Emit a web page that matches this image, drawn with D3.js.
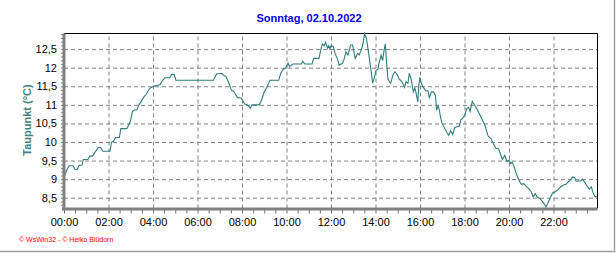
<!DOCTYPE html>
<html>
<head>
<meta charset="utf-8">
<script src="https://cdn.jsdelivr.net/npm/d3@7"></script>
<style>
  body { margin: 0; background: #fff; }
  svg { display: block; }
  text { font-family: "Liberation Sans", Arial, sans-serif; }
</style>
</head>
<body>
<div id="chart"></div>
<script>
// Taupunkt, Sonntag 02.10.2022 (hours since midnight, degrees C)
var hours = [
  0.00, 0.03, 0.12, 0.23, 0.41, 0.50, 0.60, 0.67, 0.81, 0.87, 1.07, 1.16, 1.28, 1.40, 1.54, 1.64, 1.75,
  2.07, 2.13, 2.22, 2.32, 2.49, 2.55, 2.82, 2.89, 3.00, 3.07, 3.18, 3.27, 3.37, 3.48, 3.60, 3.67, 3.78,
  3.87, 4.04, 4.31, 4.40, 4.54, 4.76, 4.84, 4.95, 5.03, 6.71, 6.86, 7.09, 7.20, 7.28, 7.40, 7.52, 7.64,
  7.79, 7.97, 8.12, 8.27, 8.37, 8.45, 8.78, 8.87, 8.99, 9.14, 9.26, 9.65, 9.74, 9.86, 9.96, 10.07, 10.14,
  10.22, 10.29, 10.67, 10.73, 10.82, 11.15, 11.22, 11.46, 11.54, 11.61, 11.69, 11.76, 11.84, 11.90, 11.95,
  12.00, 12.10, 12.19, 12.28, 12.37, 12.52, 12.60, 12.67, 12.76, 12.88, 12.97, 13.09, 13.20, 13.27, 13.36,
  13.42, 13.51, 13.60, 13.69, 13.78, 13.87, 13.96, 14.02, 14.11, 14.16, 14.25, 14.32, 14.38, 14.44, 14.50,
  14.56, 14.68, 14.78, 14.87, 14.98, 15.07, 15.19, 15.31, 15.37, 15.46, 15.52, 15.61, 15.70, 15.77, 15.83,
  15.90, 15.95, 16.00, 16.06, 16.15, 16.26, 16.36, 16.42, 16.51, 16.60, 16.69, 16.75, 16.81, 16.87, 16.93,
  16.99, 17.11, 17.20, 17.29, 17.38, 17.47, 17.56, 17.77, 17.83, 17.92, 18.01, 18.10, 18.19, 18.25, 18.35,
  18.46, 18.58, 18.70, 18.82, 18.94, 19.06, 19.18, 19.29, 19.41, 19.53, 19.63, 19.70, 19.81, 19.90, 19.99,
  20.08, 20.14, 20.22, 20.34, 20.46, 20.55, 20.67, 20.76, 20.88, 21.00, 21.09, 21.18, 21.27, 21.39, 21.51,
  21.60, 21.66, 21.75, 21.87, 21.96, 22.08, 22.20, 22.32, 22.44, 22.56, 22.65, 22.74, 22.86, 22.95, 23.01,
  23.22, 23.31, 23.40, 23.52, 23.61, 23.70, 23.79, 23.88, 23.94
];
var dewPoint = [
  9.05, 9.09, 9.24, 9.36, 9.36, 9.26, 9.26, 9.37, 9.38, 9.53, 9.53, 9.62, 9.62, 9.73, 9.85, 9.85, 9.75,
  9.75, 9.99, 10.02, 10.12, 10.12, 10.36, 10.36, 10.43, 10.59, 10.82, 10.86, 10.86, 11.00, 11.10, 11.22, 11.26, 11.38,
  11.45, 11.50, 11.54, 11.63, 11.73, 11.73, 11.82, 11.82, 11.66, 11.66, 11.83, 11.85, 11.78, 11.76, 11.60, 11.40, 11.35,
  11.20, 11.18, 11.02, 10.99, 10.91, 11.00, 11.00, 11.11, 11.33, 11.51, 11.66, 11.66, 11.85, 11.96, 11.99, 12.12, 12.03,
  12.07, 12.10, 12.10, 12.17, 12.10, 12.10, 12.25, 12.25, 12.48, 12.64, 12.59, 12.68, 12.52, 12.59, 12.50,
  12.59, 12.57, 12.37, 12.25, 12.07, 12.12, 12.25, 12.43, 12.34, 12.61, 12.61, 12.25, 12.39, 12.34, 12.48,
  12.59, 12.91, 12.77, 12.39, 12.01, 11.58, 11.76, 11.92, 11.96, 12.12, 12.34, 12.19, 12.45, 12.64, 12.12,
  11.69, 11.58, 11.80, 11.89, 11.81, 11.69, 11.62, 11.47, 11.62, 11.58, 11.85, 11.67, 11.35, 11.45, 11.30,
  11.08, 11.54, 11.74, 11.58, 11.47, 11.38, 11.38, 11.18, 11.35, 11.35, 11.26, 10.86, 10.97, 10.86, 10.64,
  10.50, 10.37, 10.27, 10.18, 10.30, 10.20, 10.39, 10.43, 10.59, 10.64, 10.72, 10.90, 10.93, 10.82, 11.09,
  10.99, 10.86, 10.72, 10.57, 10.41, 10.16, 10.10, 9.96, 9.83, 9.82, 9.65, 9.53, 9.64, 9.49, 9.51,
  9.42, 9.46, 9.35, 9.13, 8.95, 8.86, 8.88, 8.81, 8.75, 8.66, 8.52, 8.61, 8.52, 8.48, 8.39,
  8.32, 8.25, 8.36, 8.52, 8.63, 8.66, 8.72, 8.79, 8.84, 8.86, 8.92, 8.97, 9.06, 9.04, 8.95,
  8.95, 9.00, 8.92, 8.81, 8.73, 8.79, 8.61, 8.52, 8.54
];
var yTicks = [8.5, 9, 9.5, 10, 10.5, 11, 11.5, 12, 12.5];
var xTicks = [0, 2, 4, 6, 8, 10, 12, 14, 16, 18, 20, 22];
var xTickLabels = ["00:00", "02:00", "04:00", "06:00", "08:00", "10:00", "12:00", "14:00", "16:00", "18:00", "20:00", "22:00"];

var width = 616, height = 253;
var plotLeft = 64, plotRight = 597.5, plotTop = 33.5, plotBottom = 208.5;

var svg = d3.select("#chart").append("svg")
  .attr("width", width)
  .attr("height", height);

svg.append("rect").attr("width", width).attr("height", height).attr("fill", "#fff");

var x = d3.scaleLinear().domain([0, 24]).range([plotLeft, plotLeft + 534]);
var y = d3.scaleLinear().domain([8.21, 12.92]).range([plotBottom, plotTop]);

// grid
svg.append("g")
  .attr("transform", "translate(0," + plotBottom + ")")
  .call(d3.axisBottom(x).tickValues(xTicks.slice(1)).tickSize(-(plotBottom - plotTop)).tickFormat(""))
  .call(function(g) {
    g.select(".domain").remove();
    g.selectAll("line").attr("stroke", "#808080").attr("stroke-dasharray", "4,3");
  });
svg.append("g")
  .attr("transform", "translate(" + plotLeft + ",0)")
  .call(d3.axisLeft(y).tickValues(yTicks).tickSize(-(plotRight - plotLeft)).tickFormat(""))
  .call(function(g) {
    g.select(".domain").remove();
    g.selectAll("line").attr("stroke", "#808080").attr("stroke-dasharray", "4,3");
  });

// frame top / right
svg.append("line").attr("x1", plotLeft).attr("x2", plotRight).attr("y1", plotTop).attr("y2", plotTop)
  .attr("stroke", "#000").attr("stroke-width", 1);
svg.append("line").attr("x1", plotRight).attr("x2", plotRight).attr("y1", plotTop).attr("y2", plotBottom)
  .attr("stroke", "#000").attr("stroke-width", 1);

// the line
var line = d3.line()
  .x(function(d, i) { return x(hours[i]); })
  .y(function(d) { return y(d); });

svg.append("path")
  .datum(dewPoint)
  .attr("fill", "none")
  .attr("stroke", "#2f7d7d")
  .attr("stroke-width", 1.1)
  .attr("d", line);

// x axis: minor ticks every half hour, labels every 2 hours
var halfHours = d3.range(0, 24, 0.5);
svg.append("g")
  .attr("transform", "translate(0," + (plotBottom + 1) + ")")
  .call(d3.axisBottom(x).tickValues(halfHours).tickSize(4).tickFormat(""))
  .call(function(g) {
    g.select(".domain").remove();
    g.selectAll("line").attr("stroke", "#707070");
  });
svg.append("g")
  .attr("transform", "translate(0," + (plotBottom + 1) + ")")
  .call(d3.axisBottom(x).tickValues(xTicks).tickSize(0).tickPadding(9)
    .tickFormat(function(d, i) { return xTickLabels[i]; }))
  .call(function(g) {
    g.select(".domain").remove();
    g.selectAll("text").attr("fill", "#000").style("font-size", "11px");
  });
svg.append("line").attr("x1", plotLeft - 2).attr("x2", plotRight).attr("y1", plotBottom + 0.5).attr("y2", plotBottom + 0.5)
  .attr("stroke", "#808080").attr("stroke-width", 3);

// y axis
var tenths = d3.range(83, 130).map(function(d) { return d / 10; });
svg.append("g")
  .attr("transform", "translate(" + (plotLeft - 1) + ",0)")
  .call(d3.axisLeft(y).tickValues(tenths).tickSize(2).tickFormat(""))
  .call(function(g) {
    g.select(".domain").remove();
    g.selectAll("line").attr("stroke", "#808080");
  });
svg.append("g")
  .attr("transform", "translate(" + (plotLeft - 1) + ",0)")
  .call(d3.axisLeft(y).tickValues(yTicks).tickSize(0).tickPadding(6)
    .tickFormat(function(d) { return String(d).replace(".", ","); }))
  .call(function(g) {
    g.select(".domain").remove();
    g.selectAll("text").attr("fill", "#000").style("font-size", "11px");
  });
svg.append("line").attr("x1", plotLeft).attr("x2", plotLeft).attr("y1", plotTop).attr("y2", plotBottom + 2)
  .attr("stroke", "#808080").attr("stroke-width", 3);

// texts
svg.append("text")
  .attr("x", 309).attr("y", 22)
  .attr("text-anchor", "middle")
  .attr("fill", "#0000ff")
  .style("font-size", "11px").style("font-weight", "bold")
  .text("Sonntag, 02.10.2022");

svg.append("text")
  .attr("transform", "translate(31,120) rotate(-90)")
  .attr("text-anchor", "middle")
  .attr("fill", "#408080")
  .style("font-size", "11px").style("font-weight", "bold")
  .text("Taupunkt  (°C)");

svg.append("text")
  .attr("x", 19).attr("y", 241.5)
  .attr("fill", "#ff0000")
  .style("font-size", "7px")
  .text("© WsWin32 - © Heiko Blüdorn");

// outer grey frame right / bottom
svg.append("line").attr("x1", 614.5).attr("x2", 614.5).attr("y1", 0).attr("y2", 252)
  .attr("stroke", "#a0a0a0").attr("stroke-width", 1.5);
svg.append("line").attr("x1", 0).attr("x2", 615).attr("y1", 251.5).attr("y2", 251.5)
  .attr("stroke", "#a0a0a0").attr("stroke-width", 1.5);
</script>
</body>
</html>
